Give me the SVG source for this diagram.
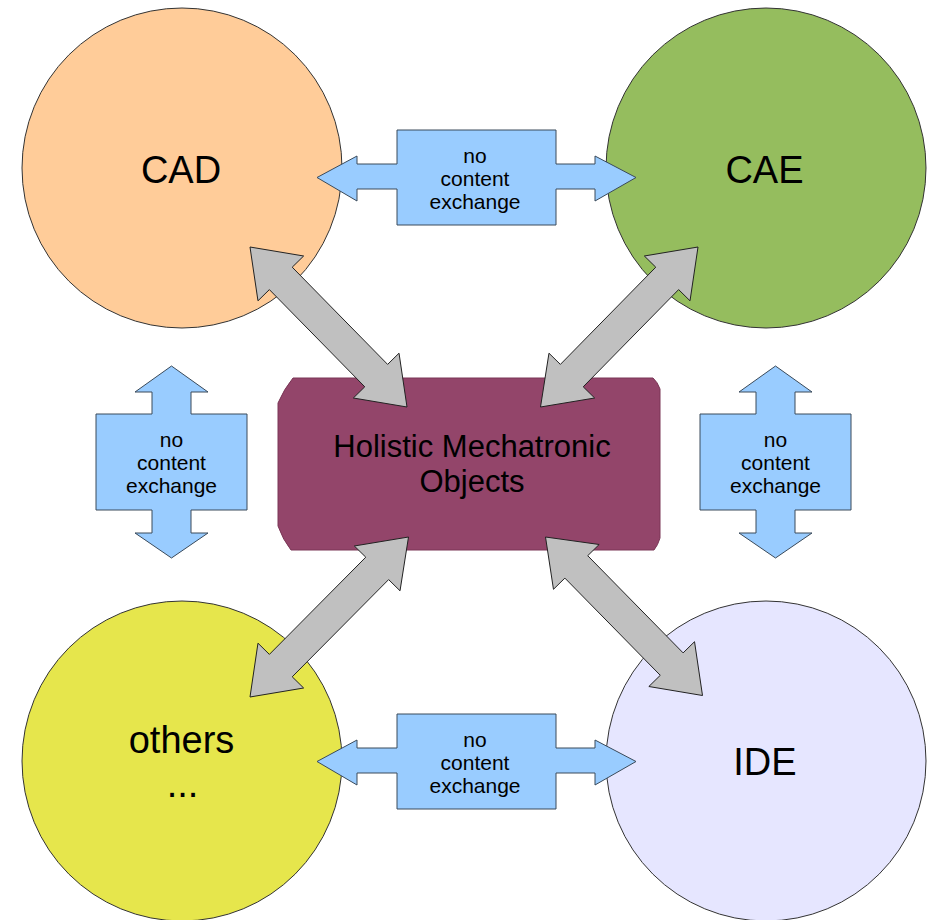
<svg xmlns="http://www.w3.org/2000/svg" width="927" height="920" viewBox="0 0 927 920">
  <style>
    .circle { stroke: #333333; stroke-width: 1; }
    .big { font-family: "Liberation Sans", Arial, sans-serif; font-size: 38px; fill: #000; text-anchor: middle; }
    .mid { font-family: "Liberation Sans", Arial, sans-serif; font-size: 31px; fill: #000; text-anchor: middle; }
    .small { font-family: "Liberation Sans", Arial, sans-serif; font-size: 21px; fill: #000; text-anchor: middle; }
    .callout { fill: #99ccff; stroke: #3a4a5a; stroke-width: 1; stroke-linejoin: miter; }
    .link { fill: #c0c0c0; stroke: #222222; stroke-width: 1; stroke-linejoin: miter; }
  </style>
  <defs>
    <!-- horizontal double-headed callout, centred on (0,0) -->
    <path id="hcallout" d="M-79.5,-47.5 L79.5,-47.5 L79.5,-13.5 L118.5,-13.5 L118.5,-21.5 L159.5,0 L118.5,23.5 L118.5,11.5 L79.5,11.5 L79.5,47.5 L-79.5,47.5 L-79.5,11.5 L-119.5,11.5 L-119.5,23.5 L-159.5,0 L-119.5,-21.5 L-119.5,-13.5 L-79.5,-13.5 Z"/>
    <!-- vertical double-headed callout, centred on (0,0) -->
    <path id="vcallout" d="M0,-96 L36.5,-70 L19.5,-70 L19.5,-48 L75.5,-48 L75.5,48 L19.5,48 L19.5,71 L36.5,71 L0,96 L-36.5,71 L-19.5,71 L-19.5,48 L-75.5,48 L-75.5,-48 L-19.5,-48 L-19.5,-70 L-36.5,-70 Z"/>
  </defs>

  <!-- tools -->
  <g id="cad">
    <circle class="circle" cx="182" cy="168" r="160" fill="#ffcc99"/>
    <text class="big" x="181" y="183">CAD</text>
  </g>
  <g id="cae">
    <circle class="circle" cx="766" cy="168" r="160" fill="#95bd5e"/>
    <text class="big" x="764.5" y="183">CAE</text>
  </g>
  <g id="others">
    <circle class="circle" cx="182" cy="761" r="160" fill="#e6e64c"/>
    <text class="big" x="181.5" y="753">others</text>
    <text class="big" x="182.5" y="797">...</text>
  </g>
  <g id="ide">
    <circle class="circle" cx="766" cy="761" r="160" fill="#e6e6ff"/>
    <text class="big" x="765" y="775">IDE</text>
  </g>

  <!-- central object store, bevelled corners -->
  <g id="hmo">
    <path d="M293,378 L653,378 Q657.5,382 660,389 L660,538 Q658,545 654,550 L291,550 Q283,540 278,526 L278,403 Q284,389 293,378 Z" fill="#93456a" stroke="#7a3656" stroke-width="1"/>
    <text class="mid" x="472" y="457">Holistic Mechatronic</text>
    <text class="mid" x="472" y="491.5">Objects</text>
  </g>

  <!-- "no content exchange" callouts between neighbouring tools -->
  <g id="nce-top">
    <use href="#hcallout" class="callout" transform="translate(476.5,177.5)"/>
    <text class="small" x="475" y="163">no</text>
    <text class="small" x="475" y="186">content</text>
    <text class="small" x="475" y="209">exchange</text>
  </g>
  <g id="nce-bottom">
    <use href="#hcallout" class="callout" transform="translate(476.5,761.5)"/>
    <text class="small" x="475" y="747">no</text>
    <text class="small" x="475" y="770">content</text>
    <text class="small" x="475" y="793">exchange</text>
  </g>
  <g id="nce-left">
    <use href="#vcallout" class="callout" transform="translate(171.5,462)"/>
    <text class="small" x="171.5" y="447">no</text>
    <text class="small" x="171.5" y="470">content</text>
    <text class="small" x="171.5" y="493">exchange</text>
  </g>
  <g id="nce-right">
    <use href="#vcallout" class="callout" transform="translate(775.5,462)"/>
    <text class="small" x="775.5" y="447">no</text>
    <text class="small" x="775.5" y="470">content</text>
    <text class="small" x="775.5" y="493">exchange</text>
  </g>

  <!-- exchange links between the tools and the central objects -->
  <g id="connectors">
    <polygon class="link" points="250,247 303.65,255.99 292.23,267.2 387.61,364.4 399.03,353.19 407,407 353.35,398.01 364.77,386.8 269.39,289.6 257.97,300.81"/>
    <polygon class="link" points="698,247 644.35,255.99 655.77,267.2 560.39,364.4 548.97,353.19 540.5,407 594.65,398.01 583.23,386.8 678.61,289.6 690.03,300.81"/>
    <polygon class="link" points="250,697 303.65,688.01 292.23,676.8 388.61,579.6 400.03,590.81 408.5,537 354.35,545.99 365.77,557.2 269.39,654.4 257.97,643.19"/>
    <polygon class="link" points="702.5,695.5 648.85,686.51 660.27,675.3 564.89,578.1 553.47,589.31 545.5,537 599.15,544.49 587.73,555.7 683.11,652.9 694.53,641.69"/>
  </g>
</svg>
